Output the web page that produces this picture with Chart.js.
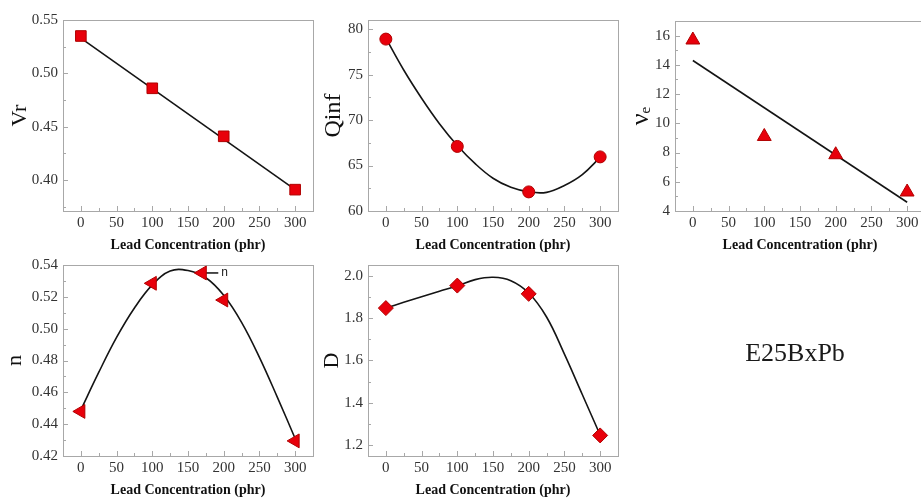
<!DOCTYPE html>
<html>
<head>
<meta charset="utf-8">
<script src="https://cdn.jsdelivr.net/npm/chart.js@4.4.1/dist/chart.umd.min.js"></script>
<style>
html,body{margin:0;padding:0;background:#fff;overflow:hidden;width:921px;height:502px;position:relative;}
canvas{position:absolute;left:0;top:0;}
#sideLabel{position:absolute;left:795px;top:353px;transform:translate(-50%,-50%);font:26px 'Liberation Serif','Times New Roman',serif;color:#1a1a1a;white-space:nowrap;}
</style>
</head>
<body>
<canvas id="cVr" width="940" height="502"></canvas>
<canvas id="cQinf" width="940" height="502"></canvas>
<canvas id="cVe" width="940" height="502"></canvas>
<canvas id="cN" width="940" height="502"></canvas>
<canvas id="cD" width="940" height="502"></canvas>
<div id="sideLabel"></div>
<script>
// ---------- data ----------
const concentration = [0, 100, 200, 300];
const vrValues   = [0.535, 0.486, 0.441, 0.391];
const qinfValues = [78.9, 67.1, 62.1, 65.95];
const veValues   = [15.7, 9.1, 7.85, 5.3];
const nValues    = [0.448, 0.5285, 0.518, 0.4295];
const dValues    = [1.847, 1.953, 1.914, 1.247];

// fitted lines / curves as drawn in the reference
const lineX  = [0, 300];
const vrFit  = [0.533, 0.391];
const veFit  = [14.3, 4.6];
const curveX = [0, 25, 50, 75, 100, 125, 150, 175, 200, 225, 250, 275, 300];
const qinfFit = [79.0, 75.5, 72.4, 69.6, 67.2, 65.2, 63.6, 62.6, 62.1, 62.05, 62.8, 64.0, 65.9];
const nFit    = [0.449, 0.4725, 0.4945, 0.513, 0.5275, 0.5362, 0.5365, 0.532, 0.521, 0.504, 0.482, 0.457, 0.431];
const dFit    = [1.847, 1.874, 1.900, 1.926, 1.952, 1.981, 1.992, 1.976, 1.918, 1.805, 1.630, 1.440, 1.249];

// tick labels
const xTicks    = [0, 50, 100, 150, 200, 250, 300];
const vrTicks   = [0.40, 0.45, 0.50, 0.55];
const qinfTicks = [60, 65, 70, 75, 80];
const veTicks   = [4, 6, 8, 10, 12, 14, 16];
const nTicks    = [0.42, 0.44, 0.46, 0.48, 0.50, 0.52, 0.54];
const dTicks    = [1.2, 1.4, 1.6, 1.8, 2.0];

// texts
const xTitle = 'Lead Concentration (phr)';
const yTitles = { vr: 'Vr', qinf: 'Qinf', ve: 'νₑ', n: 'n', d: 'D' };
const nLegend = { x: 170, y: 0.535, label: 'n' };
const sideLabelText = 'E25BxPb';

document.getElementById('sideLabel').textContent = sideLabelText;

// ---------- drawing ----------
const SERIF = "'Liberation Serif','Times New Roman',serif";
const RED = '#e8000b';
const RED_DARK = '#b00000';

const framePlugin = {
  id: 'frame',
  beforeDatasetsDraw(chart) {
    const {ctx, chartArea: a, scales: {x, y}} = chart;
    ctx.save();
    ctx.strokeStyle = '#a8a8a8';
    ctx.lineWidth = 1;
    ctx.strokeRect(Math.round(a.left) + 0.5, Math.round(a.top) + 0.5,
                   Math.round(a.right - a.left), Math.round(a.bottom - a.top));
    const xt = x.ticks.map(t => t.value);
    ctx.beginPath();
    xt.forEach((v, i) => {
      const px = Math.round(x.getPixelForValue(v)) + 0.5;
      ctx.moveTo(px, a.bottom); ctx.lineTo(px, a.bottom - 5);
      if (i < xt.length - 1) {
        const pm = Math.round(x.getPixelForValue((v + xt[i + 1]) / 2)) + 0.5;
        ctx.moveTo(pm, a.bottom); ctx.lineTo(pm, a.bottom - 3);
      }
    });
    const yt = y.ticks.map(t => t.value);
    const step = yt.length > 1 ? yt[1] - yt[0] : 0;
    const minors = [];
    yt.forEach((v, i) => { if (i < yt.length - 1) minors.push((v + yt[i + 1]) / 2); });
    if (step) { minors.push(yt[0] - step / 2); minors.push(yt[yt.length - 1] + step / 2); }
    yt.forEach(v => {
      const py = Math.round(y.getPixelForValue(v)) + 0.5;
      ctx.moveTo(a.left, py); ctx.lineTo(a.left + 5, py);
    });
    minors.forEach(v => {
      if (v <= y.min || v >= y.max) return;
      const py = Math.round(y.getPixelForValue(v)) + 0.5;
      ctx.moveTo(a.left, py); ctx.lineTo(a.left + 3, py);
    });
    ctx.stroke();
    ctx.restore();
  }
};

const legendPlugin = {
  id: 'innerLegend',
  afterDatasetsDraw(chart, args, opts) {
    if (!opts || !opts.show) return;
    const {ctx, scales: {x, y}} = chart;
    const px = x.getPixelForValue(nLegend.x);
    const py = y.getPixelForValue(nLegend.y);
    ctx.save();
    ctx.strokeStyle = '#111';
    ctx.lineWidth = 1.5;
    ctx.beginPath(); ctx.moveTo(px, py); ctx.lineTo(px + 16, py); ctx.stroke();
    ctx.fillStyle = RED; ctx.strokeStyle = RED_DARK; ctx.lineWidth = 1;
    Chart.helpers.drawPoint(ctx, {pointStyle: 'triangle', rotation: -90, radius: 8, borderWidth: 1}, px, py);
    ctx.fillStyle = '#222';
    ctx.font = "12px 'Liberation Sans', Arial, sans-serif";
    ctx.textBaseline = 'middle';
    ctx.textAlign = 'left';
    ctx.fillText(nLegend.label, px + 19, py);
    ctx.restore();
  }
};

function makePanel(id, cfg) {
  const pts = concentration.map((x, i) => ({x, y: cfg.values[i]}));
  const fit = cfg.fitX.map((x, i) => ({x, y: cfg.fitY[i]}));
  return new Chart(document.getElementById(id), {
    type: 'scatter',
    data: {
      datasets: [
        {
          data: fit, showLine: true, borderColor: '#141414', borderWidth: 1.6,
          pointRadius: 0, fill: false,
          tension: cfg.smooth ? 0.4 : 0,
          order: 2
        },
        {
          data: pts, showLine: false, pointStyle: cfg.style, rotation: cfg.rotation || 0,
          pointRadius: cfg.radius, pointHoverRadius: cfg.radius,
          backgroundColor: RED, borderColor: RED_DARK, borderWidth: 1, order: 1
        }
      ]
    },
    options: {
      responsive: false, animation: false, devicePixelRatio: 1,
      events: [],
      layout: { padding: cfg.pad },
      plugins: {
        legend: { display: false }, tooltip: { enabled: false },
        innerLegend: { show: !!cfg.legend }
      },
      scales: {
        x: {
          type: 'linear', position: 'bottom', min: -25, max: 325,
          afterBuildTicks: s => { s.ticks = xTicks.map(v => ({value: v})); },
          afterFit: s => { s.height = cfg.hx; },
          grid: { display: false, drawTicks: false },
          border: { display: false },
          ticks: { padding: 3, color: '#333', font: { family: SERIF, size: 15 }, maxRotation: 0,
                   callback: v => String(v) },
          title: { display: true, text: xTitle, color: '#111', padding: 0,
                   font: { family: SERIF, size: 14, weight: 'bold' } }
        },
        y: {
          type: 'linear', position: 'left', min: cfg.ymin, max: cfg.ymax,
          afterBuildTicks: s => { s.ticks = cfg.ticks.map(v => ({value: v})); },
          afterFit: s => { s.width = cfg.wy; },
          grid: { display: false, drawTicks: false },
          border: { display: false },
          ticks: { padding: 5, color: '#333', font: { family: SERIF, size: 15 },
                   callback: v => Number(v).toFixed(cfg.dec) },
          title: { display: true, text: cfg.title, color: '#111', padding: 0,
                   font: { family: SERIF, size: cfg.titleSize } }
        }
      }
    },
    plugins: [framePlugin, legendPlugin]
  });
}

makePanel('cVr', {
  values: vrValues, fitX: lineX, fitY: vrFit, smooth: false, style: 'rect', radius: 7.5,
  ymin: 0.371, ymax: 0.550, ticks: vrTicks, dec: 2, title: yTitles.vr, titleSize: 22,
  pad: {left: 7, right: 627, top: 20, bottom: 248.6}, wy: 56, hx: 42.4
});
makePanel('cQinf', {
  values: qinfValues, fitX: curveX, fitY: qinfFit, smooth: true, style: 'circle', radius: 6,
  ymin: 60, ymax: 81, ticks: qinfTicks, dec: 0, title: yTitles.qinf, titleSize: 24,
  pad: {left: 319, right: 322, top: 20, bottom: 248.6}, wy: 49, hx: 42.4
});
makePanel('cVe', {
  values: veValues, fitX: lineX, fitY: veFit, smooth: false, style: 'triangle', radius: 8,
  ymin: 4, ymax: 17, ticks: veTicks, dec: 0, title: yTitles.ve, titleSize: 26,
  pad: {left: 626, right: 15, top: 21, bottom: 248.6}, wy: 49, hx: 42.4
});
makePanel('cN', {
  values: nValues, fitX: curveX, fitY: nFit, smooth: true, style: 'triangle', rotation: -90, radius: 8,
  ymin: 0.42, ymax: 0.54, ticks: nTicks, dec: 2, title: yTitles.n, titleSize: 22, legend: true,
  pad: {left: 2, right: 627, top: 265, bottom: 3.6}, wy: 61, hx: 42.4
});
makePanel('cD', {
  values: dValues, fitX: curveX, fitY: dFit, smooth: true, style: 'rectRot', radius: 7.5,
  ymin: 1.15, ymax: 2.05, ticks: dTicks, dec: 1, title: yTitles.d, titleSize: 22,
  pad: {left: 319, right: 322, top: 265, bottom: 3.6}, wy: 49, hx: 42.4
});
</script>
</body>
</html>
